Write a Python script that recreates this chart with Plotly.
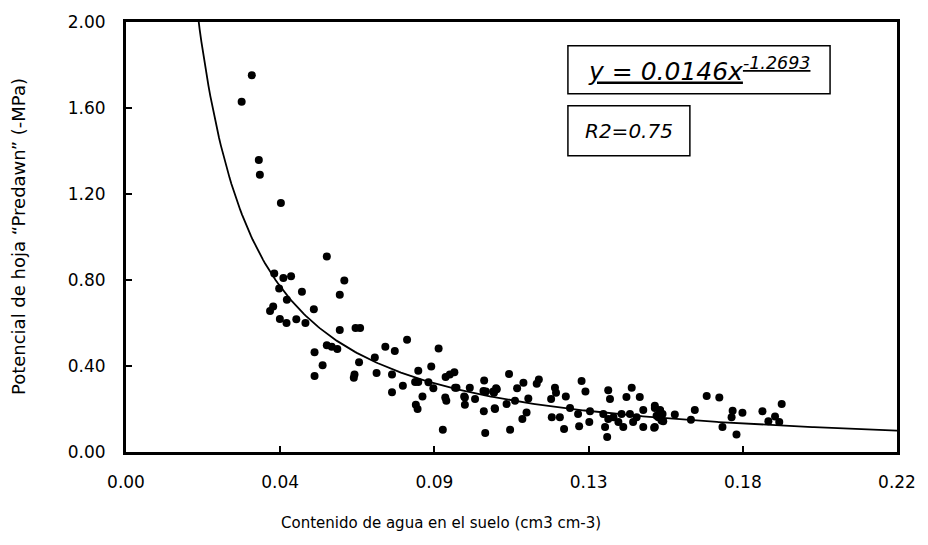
import numpy as np
import plotly.graph_objects as go

# Observed points: soil water content (cm3 cm-3) vs predawn leaf potential (-MPa)
x_obs = [0.0359, 0.0330, 0.0379, 0.0382, 0.0442,
         0.0573, 0.0423, 0.0449, 0.0471, 0.0623, 0.0437, 0.0502, 0.0610, 0.0459, 0.0536,
         0.0420, 0.0411, 0.0439, 0.0458, 0.0486, 0.0512, 0.0610, 0.0655, 0.0668,
         0.0573, 0.0587, 0.0603, 0.0538, 0.0561, 0.0538, 0.0665, 0.0652, 0.0650,
         0.0710, 0.0740, 0.0767, 0.0802, 0.0715, 0.0759, 0.0759, 0.0790, 0.0834,
         0.0825, 0.0834, 0.0871, 0.0892, 0.0863, 0.0877, 0.0827, 0.0832, 0.0846,
         0.0911, 0.0914, 0.0904, 0.0912, 0.0924, 0.0937, 0.0939, 0.0981, 0.0965,
         0.0967, 0.0996, 0.0943, 0.0967, 0.1020,
         0.1022, 0.1021, 0.1052, 0.1025, 0.1027, 0.1048, 0.1058,
         0.1093, 0.1056, 0.1050, 0.1053, 0.1086, 0.1110, 0.1116, 0.1134, 0.1172, 0.1178,
         0.1148, 0.1143, 0.1131, 0.1096, 0.1224, 0.1227, 0.1213, 0.1255, 0.1215, 0.1238,
         0.1250, 0.1267, 0.1300, 0.1311, 0.1290, 0.1293, 0.1322, 0.1324, 0.1376, 0.1381,
         0.1373, 0.1362, 0.1376, 0.1391, 0.1367, 0.1405, 0.1419, 0.1428, 0.1443, 0.1466,
         0.1476, 0.1438, 0.1457, 0.1414, 0.1476, 0.1447, 0.1509, 0.1524, 0.1531, 0.1519,
         0.1533, 0.1507,
         0.1509, 0.1524, 0.1514, 0.1528, 0.1509, 0.1566, 0.1612, 0.1623, 0.1657, 0.1693,
         0.1731, 0.1728, 0.1702, 0.1742, 0.1759, 0.1816, 0.1852, 0.1833, 0.1864, 0.1871]

y_obs = [1.752, 1.629, 1.358, 1.289, 1.158,
         0.909, 0.830, 0.809, 0.818, 0.798, 0.760, 0.745, 0.731, 0.708, 0.664,
         0.677, 0.656, 0.619, 0.600, 0.618, 0.600, 0.567, 0.577, 0.577,
         0.497, 0.490, 0.479, 0.464, 0.403, 0.354, 0.418, 0.360, 0.345,
         0.439, 0.490, 0.470, 0.522, 0.368, 0.360, 0.278, 0.308, 0.378,
         0.326, 0.326, 0.398, 0.481, 0.325, 0.296, 0.220, 0.200, 0.258,
         0.253, 0.238, 0.104, 0.349, 0.360, 0.371, 0.299, 0.299, 0.258,
         0.220, 0.246, 0.299, 0.253, 0.284,
         0.333, 0.189, 0.203, 0.088, 0.281, 0.281, 0.292,
         0.363, 0.296, 0.276, 0.200, 0.223, 0.238, 0.296, 0.322, 0.317, 0.337,
         0.249, 0.184, 0.154, 0.104, 0.299, 0.276, 0.246, 0.258, 0.162, 0.162,
         0.107, 0.205, 0.330, 0.281, 0.177, 0.120, 0.139, 0.189, 0.287, 0.246,
         0.070, 0.177, 0.154, 0.162, 0.116, 0.139, 0.116, 0.256, 0.299, 0.256,
         0.195, 0.177, 0.162, 0.177, 0.116, 0.139, 0.215, 0.195, 0.177, 0.162,
         0.143, 0.113,
         0.205, 0.192, 0.169, 0.146, 0.116, 0.174, 0.150, 0.195, 0.261, 0.253,
         0.192, 0.162, 0.116, 0.081, 0.182, 0.189, 0.165, 0.143, 0.139, 0.223]

# Fitted power model shown on the chart: y = 0.0146 x^-1.2693
fit_a = 0.0146
fit_b = -1.2693

x_tick_vals = [0.0, 0.044, 0.088, 0.132, 0.176, 0.22]
x_tick_text = ["0.00", "0.04", "0.09", "0.13", "0.18", "0.22"]
y_tick_vals = [0.0, 0.4, 0.8, 1.2, 1.6, 2.0]
y_tick_text = ["0.00", "0.40", "0.80", "1.20", "1.60", "2.00"]

x_title = "Contenido de agua en el suelo (cm3 cm-3)"
y_title = "Potencial de hoja \u201cPredawn\u201d (-MPa)"
eq_text = "<i><u>y = 0.0146x<sup>-1.2693</sup></u></i>"
r2_text = "<i>R2=0.75</i>"

x_fit = np.linspace(0.019, 0.22, 400)
y_fit = fit_a * x_fit ** fit_b

FONT = "DejaVu Sans"

fig = go.Figure()
fig.add_trace(go.Scatter(x=x_fit, y=y_fit, mode="lines",
                         line=dict(color="black", width=1.8), showlegend=False,
                         hoverinfo="skip"))
fig.add_trace(go.Scatter(x=x_obs, y=y_obs, mode="markers",
                         marker=dict(color="black", size=8, line=dict(width=0)),
                         showlegend=False))

fig.update_layout(
    width=928, height=545,
    margin=dict(l=126, r=31, t=15, b=93),
    paper_bgcolor="white", plot_bgcolor="white",
    font=dict(family=FONT, color="black", size=15),
)
fig.update_xaxes(
    range=[0, 0.22], tickvals=x_tick_vals, ticktext=x_tick_text,
    ticks="inside", ticklen=6, tickwidth=2, tickcolor="black",
    showline=True, linewidth=3, linecolor="black", mirror=True,
    showgrid=False, zeroline=False,
    tickfont=dict(family=FONT, size=17),
    ticklabelstandoff=13,
)
fig.update_yaxes(
    range=[0, 2.0], tickvals=y_tick_vals, ticktext=y_tick_text,
    ticks="inside", ticklen=6, tickwidth=2, tickcolor="black",
    showline=True, linewidth=3, linecolor="black", mirror=True,
    showgrid=False, zeroline=False,
    tickfont=dict(family=FONT, size=17),
    ticklabelstandoff=14,
)

# Axis titles placed as annotations (x title sits left of the plot centre)
fig.add_annotation(x=0.4086, y=-0.165, xref="paper", yref="paper",
                   text=x_title, showarrow=False, xanchor="center", yanchor="middle",
                   font=dict(family=FONT, size=15))
fig.add_annotation(x=-0.140, y=0.50, xref="paper", yref="paper",
                   text=y_title, showarrow=False, textangle=-90,
                   xanchor="center", yanchor="middle",
                   font=dict(family=FONT, size=18))

# Equation and R2 boxes
fig.add_shape(type="rect", xref="x", yref="y", x0=0.1261, x1=0.2009, y0=1.666, y1=1.890,
              line=dict(color="black", width=1.5), fillcolor="white", layer="above")
fig.add_shape(type="rect", xref="x", yref="y", x0=0.1261, x1=0.1609, y0=1.378, y1=1.611,
              line=dict(color="black", width=1.5), fillcolor="white", layer="above")
fig.add_annotation(x=(0.1261 + 0.2009) / 2, y=(1.666 + 1.890) / 2, xref="x", yref="y",
                   text=eq_text, showarrow=False,
                   font=dict(family=FONT, size=25, color="black"))
fig.add_annotation(x=(0.1261 + 0.1609) / 2, y=(1.378 + 1.611) / 2, xref="x", yref="y",
                   text=r2_text, showarrow=False,
                   font=dict(family=FONT, size=20, color="black"))

fig.write_html("out.html")
